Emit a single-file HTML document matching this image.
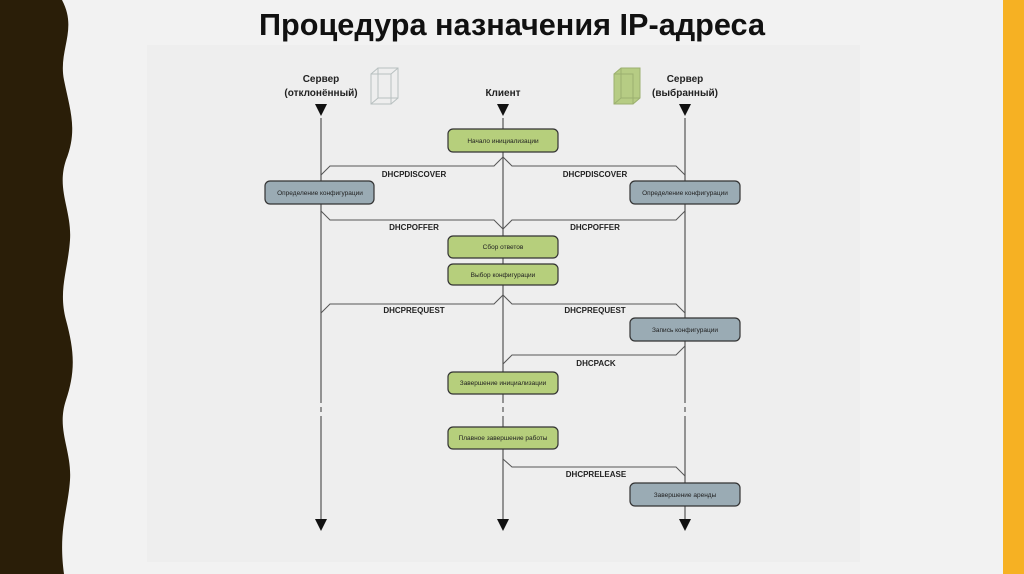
<!DOCTYPE html>
<html><head><meta charset="utf-8"><style>
html,body{margin:0;padding:0;width:1024px;height:574px;overflow:hidden;background:#f2f2f2;font-family:"Liberation Sans",sans-serif}
</style></head><body>
<svg width="1024" height="574" viewBox="0 0 1024 574" xmlns="http://www.w3.org/2000/svg" font-family="Liberation Sans, sans-serif">
<rect width="1024" height="574" fill="#f2f2f2"/>
<path d="M0 0 H62 C78 30,58 50,64 80 C70 110,78 130,66 160 C56 190,72 210,70 240 C68 270,58 290,66 320 C74 350,76 370,66 400 C56 430,72 450,70 480 C68 510,58 530,64 574 H0 Z" fill="#2a1e08"/>
<rect x="1003" y="0" width="21" height="574" fill="#f6b123"/>
<rect x="147" y="45" width="713" height="517" fill="#eeeeee"/>
<text x="512" y="35" text-anchor="middle" font-size="31" font-weight="bold" fill="#111" textLength="506" lengthAdjust="spacingAndGlyphs">Процедура назначения IP-адреса</text>
<g font-size="10" font-weight="bold" fill="#222" text-anchor="middle">
<text x="321" y="82">Сервер</text><text x="321" y="96">(отклонённый)</text>
<text x="503" y="96">Клиент</text>
<text x="685" y="82">Сервер</text><text x="685" y="96">(выбранный)</text>
</g>
<g stroke="#b8c0c0" fill="none" stroke-width="1">
<rect x="371" y="74" width="20" height="30"/><rect x="378" y="68" width="20" height="30"/>
<line x1="371" y1="74" x2="378" y2="68"/><line x1="391" y1="74" x2="398" y2="68"/><line x1="371" y1="104" x2="378" y2="98"/><line x1="391" y1="104" x2="398" y2="98"/>
</g>
<g stroke="#9cb070" stroke-width="1">
<path d="M614 74 L621 68 H640 V98 L633 104 H614 Z" fill="#b6cc84"/>
<rect x="614" y="74" width="19" height="30" fill="none"/><path d="M621 68 V98 H640 M621 98 L614 104" fill="none"/>
</g>
<g stroke="#555" stroke-width="1.2" fill="none">
<path d="M321 118 V403 M321 407 V412 M321 416 V520"/>
<path d="M503 118 V403 M503 407 V412 M503 416 V520"/>
<path d="M685 118 V403 M685 407 V412 M685 416 V520"/>
</g>
<g fill="#111">
<polygon points="315,104 327,104 321,116"/><polygon points="497,104 509,104 503,116"/><polygon points="679,104 691,104 685,116"/>
<polygon points="315,519 327,519 321,531"/><polygon points="497,519 509,519 503,531"/><polygon points="679,519 691,519 685,531"/>
</g>
<g stroke="#555" stroke-width="1" fill="none">
<path d="M321 175 L330 166 H494 L503 157 L512 166 H676 L685 175"/>
<path d="M321 211 L330 220 H494 L503 229 L512 220 H676 L685 211"/>
<path d="M321 313 L330 304 H494 L503 295 L512 304 H676 L685 313"/>
<path d="M685 346 L676 355 H512 L503 364"/>
<path d="M503 459 L512 467 H676 L685 476"/>
</g>
<g font-size="8" font-weight="bold" fill="#222" text-anchor="middle">
<text x="414" y="177">DHCPDISCOVER</text><text x="595" y="177">DHCPDISCOVER</text>
<text x="414" y="230">DHCPOFFER</text><text x="595" y="230">DHCPOFFER</text>
<text x="414" y="313">DHCPREQUEST</text><text x="595" y="313">DHCPREQUEST</text>
<text x="596" y="366">DHCPACK</text>
<text x="596" y="477">DHCPRELEASE</text>
</g>
<g stroke="#333" stroke-width="1.2">
<g fill="#b6cf7c">
<rect x="448" y="129" width="110" height="23" rx="5"/>
<rect x="448" y="236" width="110" height="22" rx="5"/>
<rect x="448" y="264" width="110" height="21" rx="5"/>
<rect x="448" y="372" width="110" height="22" rx="5"/>
<rect x="448" y="427" width="110" height="22" rx="5"/>
</g>
<g fill="#9aabb4">
<rect x="265" y="181" width="109" height="23" rx="5"/>
<rect x="630" y="181" width="110" height="23" rx="5"/>
<rect x="630" y="318" width="110" height="23" rx="5"/>
<rect x="630" y="483" width="110" height="23" rx="5"/>
</g>
</g>
<g font-size="6.5" text-anchor="middle" fill="#222">
<text x="503" y="143">Начало инициализации</text>
<text x="503" y="249">Сбор ответов</text>
<text x="503" y="277">Выбор конфигурации</text>
<text x="503" y="385">Завершение инициализации</text>
<text x="503" y="440">Плавное завершение работы</text>
<text x="320" y="195">Определение конфигурации</text>
<text x="685" y="195">Определение конфигурации</text>
<text x="685" y="332">Запись конфигурации</text>
<text x="685" y="497">Завершение аренды</text>
</g>
</svg>
</body></html>
